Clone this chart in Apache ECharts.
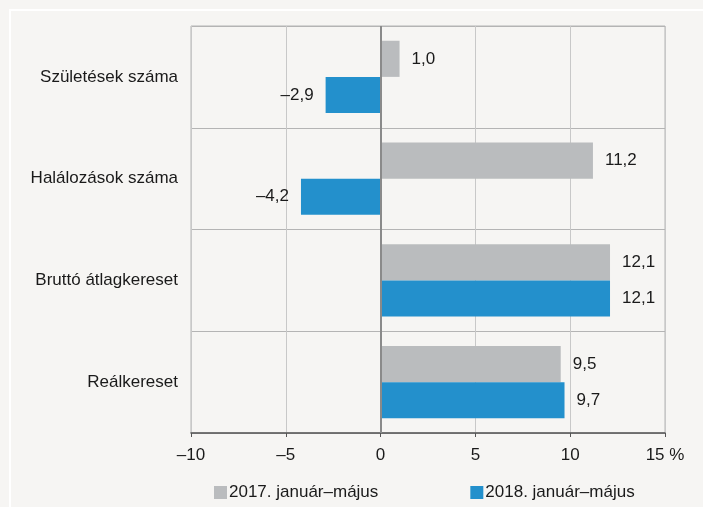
<!DOCTYPE html>
<html><head><meta charset="utf-8">
<script src="https://cdn.jsdelivr.net/npm/echarts@6/dist/echarts.min.js"></script>
<style>html,body{margin:0;padding:0;background:#f6f5f3;}#c{width:703px;height:507px;}</style>
</head><body><div id="c"></div>
<script>
const categories = ['Születések száma', 'Halálozások száma', 'Bruttó átlagkereset', 'Reálkereset'];
const series2017 = [1.0, 11.2, 12.1, 9.5];
const series2018 = [-2.9, -4.2, 12.1, 9.7];
const seriesNames = ['2017. január–május', '2018. január–május'];
const xTicks = [-10, -5, 0, 5, 10, 15];

const fmt = v => (v < 0 ? '–' : '') + Math.abs(v).toFixed(1).replace('.', ',');
const font = '"Liberation Sans", Arial, sans-serif';
const fs = 17;
const chart = echarts.init(document.getElementById('c'));
chart.setOption({
  backgroundColor: '#f6f5f3',
  animation: false,
  graphic: [{type: 'rect', shape: {x: 10, y: 10, width: 720, height: 520}, style: {fill: 'none', stroke: '#ffffff', lineWidth: 2}, silent: true}],
  grid: {left: 191, right: 38, top: 26, bottom: 74, show: true, borderColor: '#b4b4b4', borderWidth: 1, backgroundColor: 'transparent'},
  xAxis: {type: 'value', min: xTicks[0], max: xTicks[xTicks.length - 1], interval: 5,
    axisLine: {show: true, onZero: false, lineStyle: {color: '#555', width: 1.5}},
    axisTick: {show: true, length: 4, lineStyle: {color: '#555'}},
    splitLine: {show: true, lineStyle: {color: '#c8c8c8', width: 1}},
    axisLabel: {fontSize: fs, fontFamily: font, color: '#1a1a1a', margin: 14,
      formatter: v => (v < 0 ? '–' + Math.abs(v) : (v === 15 ? '15 %' : String(v)))}},
  yAxis: {type: 'category', data: categories, inverse: true,
    axisLine: {show: false}, axisTick: {show: false},
    splitLine: {show: true, lineStyle: {color: '#b4b4b4', width: 1}},
    axisLabel: {fontSize: fs, fontFamily: font, color: '#1a1a1a', margin: 13}},
  legend: {top: 479, left: 209, itemWidth: 13, itemHeight: 13, itemGap: 92, icon: 'rect',
    textStyle: {fontSize: fs, fontFamily: font, color: '#1a1a1a', padding: [0, 0, 0, -3]}, data: seriesNames},
  series: [
    {name: seriesNames[0], type: 'bar', data: series2017, barGap: '0%', barCategoryGap: '29%',
      itemStyle: {color: '#babcbe'},
      label: {show: true, fontSize: fs, fontFamily: font, color: '#1a1a1a', distance: 12,
        position: 'right', formatter: p => fmt(p.value)},
      markLine: {silent: true, symbol: 'none', label: {show: false}, lineStyle: {color: '#8a8a8a', width: 2, type: 'solid'}, data: [{xAxis: 0}]}},
    {name: seriesNames[1], type: 'bar', data: series2018.map(v => ({value: v, label: {position: v < 0 ? 'left' : 'right'}})),
      itemStyle: {color: '#2390cc'},
      label: {show: true, fontSize: fs, fontFamily: font, color: '#1a1a1a', distance: 12,
        formatter: p => fmt(p.value)}}
  ]
});
</script></body></html>
